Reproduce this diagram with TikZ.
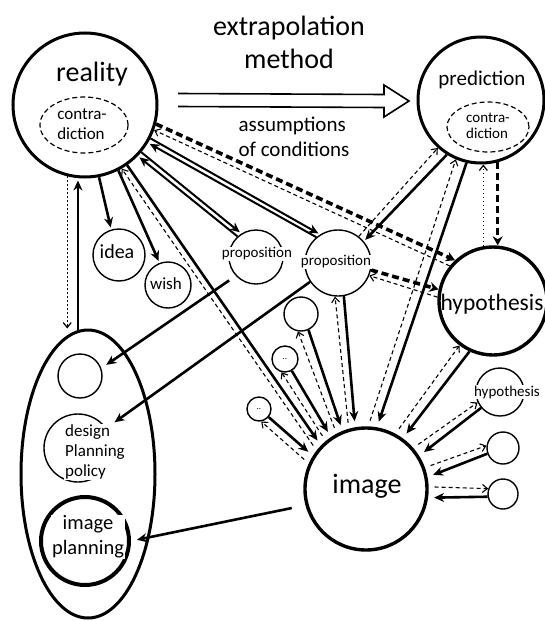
\documentclass[tikz,border=0pt]{standalone}
\usepackage{fontspec}
\setmainfont{Carlito}
\usetikzlibrary{arrows.meta,shapes.geometric}

\begin{document}
\begin{tikzpicture}[x=1pt,y=-1pt,
        bigcirc/.style={circle,draw,line width=3pt,inner sep=0pt},
        smallcirc/.style={circle,draw,line width=1.4pt,inner sep=0pt},
        dashring/.style={ellipse,draw,line width=1.2pt,dash pattern=on 5pt off 3pt,inner sep=0pt},
        solidarr/.style={line width=2.6pt,-{Stealth[length=10pt,width=9pt]},shorten >=2pt},
        backarr/.style={line width=1.1pt,dash pattern=on 4pt off 3pt,-{Straight Barb[length=5pt,width=8pt]}},
        bolddash/.style={line width=3.6pt,dash pattern=on 7pt off 4pt,-{Stealth[length=9pt,width=10pt]}},
        dotarr/.style={line width=1.2pt,dash pattern=on 1.5pt off 2.5pt,-{Straight Barb[length=5pt,width=8pt]}},
        lbl/.style={fill=white,inner sep=1pt},
        fs/.style 2 args={font=\fontsize{#1}{#2}\selectfont}
    ]
        \useasboundingbox (0,0) rectangle (544,621);

        \node[bigcirc,minimum size=144pt] (reality) at (85,105) {};
        \node[dashring,minimum width=88pt,minimum height=56pt] (contraR) at (84,125) {};
        \node[bigcirc,minimum size=126pt] (prediction) at (481,100) {};
        \node[dashring,minimum width=82pt,minimum height=50pt] (contraP) at (488,127) {};
        \node[bigcirc,line width=3.4pt,minimum size=108pt] (hypothesis) at (493,301) {};
        \node[bigcirc,line width=3.4pt,minimum size=122pt] (image) at (366,489) {};

        \node[ellipse,draw,line width=3pt,inner sep=0pt,minimum width=134pt,minimum height=288pt] (plan) at (88,474) {};
        \node[smallcirc,minimum size=44pt] (empty) at (80,376) {};
        \node[smallcirc,minimum size=68pt] (design) at (78,448) {};
        \node[circle,draw,line width=4pt,inner sep=0pt,minimum size=88pt] (ipl) at (85,541) {};

        \node[smallcirc,minimum size=52pt] (idea) at (119,255) {};
        \node[smallcirc,minimum size=46pt] (wish) at (168,285) {};
        \node[smallcirc,minimum size=54pt] (prop1) at (256,257) {};
        \node[smallcirc,minimum size=66pt] (prop2) at (338,263) {};
        \node[smallcirc,minimum size=34pt] (s1) at (301,314) {};
        \node[smallcirc,minimum size=26pt] (s2) at (285,359) {};
        \node[smallcirc,minimum size=24pt] (s3) at (259,409) {};
        \node[smallcirc,minimum size=48pt] (h1) at (500,392) {};
        \node[smallcirc,minimum size=32pt] (h2) at (503,448) {};
        \node[smallcirc,minimum size=30pt] (h3) at (503,494) {};

        \coordinate (extL) at (178,100);
        \coordinate (extR) at (409,101);
        \draw[line width=1.6pt] ([yshift=6.5pt]extL) -- ([shift={(-25pt,6.5pt)}]extR)
            -- ([shift={(-25pt,16pt)}]extR) -- (extR) -- ([shift={(-25pt,-16pt)}]extR)
            -- ([shift={(-25pt,-6.5pt)}]extR) -- ([yshift=-6.5pt]extL);

        \draw[solidarr] (reality.-79) -- (idea.107);
        \draw[solidarr] (reality.-63) -- (wish.111);
        \draw[solidarr,shorten >=6pt] (reality.-55) -- (image.136);
        \draw[backarr,shorten <=6pt] (image.142) -- (reality.-60);
        \draw[solidarr,line width=2pt] (reality.-40) -- (prop1.122);
        \draw[solidarr,line width=2pt] (prop1.132) -- (reality.-44);
        \draw[solidarr,line width=2pt] (reality.-27) -- (prop2.122);
        \draw[solidarr,line width=2pt] (prop2.130) -- (reality.-31);
        \draw[bolddash] (reality.-15) -- (hypothesis.133);
        \draw[backarr] (hypothesis.141) -- (reality.-20);
        \draw[solidarr] (plan.94) -- (plan.94 |- reality.south);
        \draw[dotarr] (reality.-104) -- (reality.-104 |- plan.north);

        \draw[solidarr] (prediction.-122) -- (prop2.40);
        \draw[backarr] (prop2.52) -- (prediction.-132);
        \draw[solidarr,shorten >=6pt] (prediction.-103) -- (image.80);
        \draw[backarr,shorten <=6pt] (image.88) -- (prediction.-113);
        \draw[bolddash] (prediction.-75) -- (prediction.-75 |- hypothesis.north);
        \draw[dotarr] (hypothesis.100) -- (hypothesis.100 |- prediction.south);
        \draw[bolddash] (prop2.-12) -- (hypothesis.168);
        \draw[backarr] (hypothesis.176) -- (prop2.-22);

        \foreach \nd/\sa/\ia/\ib/\sb in {prop2/-80/100/106/-95, s1/-65/112/118/-100,
            s2/-60/124/130/-105, s3/-40/148/156/-80, hypothesis/-115/54/62/-127,
            h1/-140/32/41/-155, h2/-160/11/20/172, h3/-170/-8/2/160}
        {
            \draw[solidarr,shorten >=6pt] (\nd.\sa) -- (image.\ia);
            \draw[backarr,shorten <=6pt] (image.\ib) -- (\nd.\sb);
        }

        \draw[solidarr,shorten <=8pt,shorten >=6pt] (prop1.-137) -- (empty.20);
        \draw[solidarr,shorten >=10pt] (prop2.-146) -- (design.35);
        \draw[solidarr,shorten <=14pt,shorten >=6pt] (image.-165) -- (ipl.0);

        \node[fs={28}{33},align=center] (title) at (289,42) {extrapolation\\method};
        \node[fs={21}{25},align=left] (assume) at (294,137) {assumptions\\of conditions};
        \node[fs={28}{30}] (realitytxt) at (92,74) {reality};
        \node[fs={17}{20},align=left] (contraRtxt) at (82,124) {contra-\\diction};
        \node[fs={21}{24}] (predtxt) at (482,80) {prediction};
        \node[fs={15}{16},align=left] (contraPtxt) at (488,126) {contra-\\diction};
        \node[fs={23.5}{26}] (hyptxt) at (492,304) {hypothesis};
        \node[fs={28}{30}] (imagetxt) at (367,486) {image};
        \node[fs={17}{20},align=left,anchor=west,lbl] (designtxt) at (64,452) {design\\Planning\\policy};
        \node[fs={20.5}{25},align=center,lbl] (ipltxt) at (88,537) {image\\planning};
        \node[fs={20}{22},lbl] (ideatxt) at (117,252) {idea};
        \node[fs={17}{20},lbl] (wishtxt) at (166,284) {wish};
        \node[fs={15}{16},lbl] (prop1txt) at (257,254) {proposition};
        \node[fs={15}{16},lbl] (prop2txt) at (336,262) {proposition};
        \node[fs={15}{16},lbl] (h1txt) at (507,392) {hypothesis};
        \node[fs={9}{10}] (s2dots) at (s2) {..};
        \node[fs={9}{10}] (s3dots) at (s3) {..};
    \end{tikzpicture}
\end{document}
